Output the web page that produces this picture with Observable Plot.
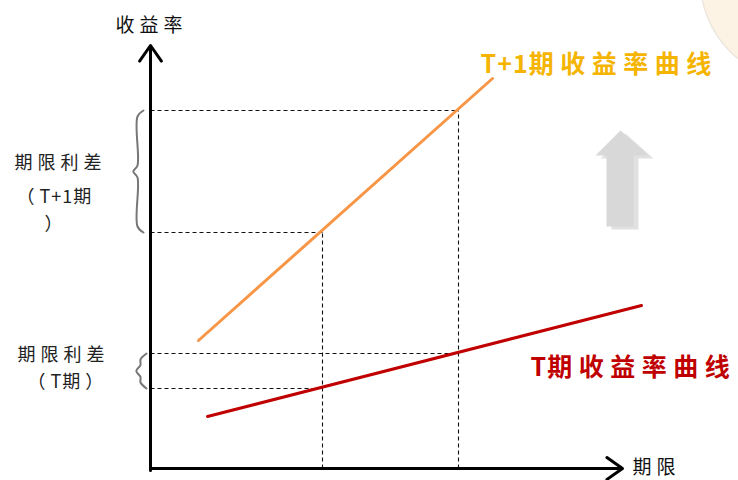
<!DOCTYPE html>
<html><head><meta charset="utf-8">
<script src="https://cdn.jsdelivr.net/npm/d3@7"></script>
<script src="https://cdn.jsdelivr.net/npm/@observablehq/plot@0.6"></script>
<style>body{margin:0;background:#fff}#chart{width:738px;height:480px;overflow:hidden}#chart svg text{letter-spacing:5px}#chart svg text.big{letter-spacing:6.5px}#chart svg tspan.latin{letter-spacing:1px}#chart svg tspan.last{letter-spacing:0}</style>
</head><body><div id="chart"></div>
<script>
// Conceptual yield-curve diagram (abstract units: term, yield)
const curveLabels = ["T+1期收益率曲线", "T期收益率曲线"];
const curveT1 = [{term: 4.8, yield: 12.8}, {term: 34.2, yield: 39.0}];
const curveT = [{term: 5.7, yield: 5.2}, {term: 49.1, yield: 16.3}];
const terms = [17.2, 30.8];
const yieldsT1 = [23.6, 35.8];
const yieldsT = [8.0, 11.5];
const axisTitles = ["收益率", "期限"];
const spreadLabels = [
  {text: "期限利差", term: -13.6, yield: 30.5},
  {text: "（T+1期", term: -13.4, yield: 27.1},
  {text: "）", term: -10.6, yield: 24.4},
  {text: "期限利差", term: -13.3, yield: 11.3},
  {text: "（T期）", term: -12.3, yield: 8.6}
];
const upArrow = [
  {term: 47.0, yield: 33.8}, {term: 49.8, yield: 31.3}, {term: 48.3, yield: 31.3},
  {term: 48.3, yield: 24.2}, {term: 45.6, yield: 24.2}, {term: 45.6, yield: 31.3},
  {term: 44.5, yield: 31.3}, {term: 47.0, yield: 33.8}
];

function brace(x, top, bot, w, id) {
  const mid = (top + bot) / 2, r = 0.6;
  return [
    [x + w, top], [x, top - r], [x, mid + r], [x - w * 0.7, mid],
    [x, mid - r], [x, bot + r], [x + w, bot]
  ].map(([term, yld]) => ({term, yield: yld, id}));
}
const braces = [
  ...brace(-1.3, yieldsT1[1], yieldsT1[0], 0.6, "a"),
  ...brace(-1.0, yieldsT[1], yieldsT[0], 0.6, "b")
];

const axes = [
  {x1: 0, y1: -0.2, x2: 0, y2: 42.3},
  {x1: 0, y1: 0, x2: 47.2, y2: 0}
];
const vDash = terms.map((t, i) => ({x1: t, y1: 0, x2: t, y2: yieldsT1[i]}));
const hDash = [
  ...terms.map((t, i) => ({x1: 0, y1: yieldsT1[i], x2: t, y2: yieldsT1[i]})),
  ...terms.map((t, i) => ({x1: 0, y1: yieldsT[i], x2: t, y2: yieldsT[i]}))
];

const cjk = "'Noto Sans CJK SC', 'Noto Sans', sans-serif";

const plot = Plot.plot({
  width: 738, height: 480, margin: 0,
  x: {domain: [-15, 58.8], range: [0, 738], axis: null},
  y: {domain: [-1.2, 46.8], range: [480, 0], axis: null},
  style: {background: "#fff"},
  marks: [
    // decorative page badge (top right)
    Plot.dot([{term: 65, yield: 48.8}], {x: "term", y: "yield", r: 100, fill: "#FDF3E4", stroke: "#ECE6DE", strokeWidth: 1.5}),
    Plot.text(["1"], {x: () => 73.0, y: () => 44.2, text: d => d, fill: "#B22222", fontSize: 26, fontWeight: "bold", textAnchor: "start", fontFamily: cjk}),
    // gray up arrow with shadow
    Plot.line(upArrow, {x: "term", y: "yield", fill: "#9a9a9a", stroke: "none", fillOpacity: 0.3, dx: 5, dy: 3}),
    Plot.line(upArrow, {x: "term", y: "yield", fill: "#D8D8D8", stroke: "none"}),
    // dashed guides
    Plot.link(vDash, {x1: "x1", y1: "y1", x2: "x2", y2: "y2", stroke: "#111", strokeWidth: 1.1, strokeDasharray: "4,3"}),
    Plot.link(hDash, {x1: "x1", y1: "y1", x2: "x2", y2: "y2", stroke: "#111", strokeWidth: 1.1, strokeDasharray: "4,3"}),
    // braces
    Plot.line(braces, {x: "term", y: "yield", z: "id", stroke: "#777", strokeWidth: 2, curve: "catmull-rom"}),
    // yield curves
    Plot.line(curveT1, {x: "term", y: "yield", stroke: "#F79646", strokeWidth: 3}),
    Plot.line(curveT, {x: "term", y: "yield", stroke: "#C00000", strokeWidth: 3}),
    // axes with arrowheads
    Plot.arrow(axes, {x1: "x1", y1: "y1", x2: "x2", y2: "y2", stroke: "#000", strokeWidth: 3, headLength: 9.5, headAngle: 70}),
    // axis titles
    Plot.text([axisTitles[0]], {x: () => -3.5, y: () => 44.3, text: d => d, fontSize: 19, fill: "#111", textAnchor: "start", fontFamily: cjk}),
    Plot.text([axisTitles[1]], {x: () => 48.2, y: () => 0.1, text: d => d, fontSize: 19, fill: "#111", textAnchor: "start", fontFamily: cjk}),
    // spread labels
    Plot.text(spreadLabels, {x: "term", y: "yield", text: "text", fontSize: 18, fill: "#222", textAnchor: "start", fontFamily: cjk}),
    // curve labels
    Plot.text([curveLabels[0]], {x: () => 33.0, y: () => 40.4, text: d => d, fontSize: 25, fontWeight: "bold", fill: "#F5B400", textAnchor: "start", fontFamily: cjk}),
    Plot.text([curveLabels[1]], {x: () => 38.0, y: () => 10.1, text: d => d, fontSize: 25, fontWeight: "bold", fill: "#C00000", textAnchor: "start", fontFamily: cjk})
  ]
});
// Latin runs inside mixed labels keep tight spacing; CJK glyphs get wider pitch;
// the final glyph carries no trailing spacing.
d3.select(plot).selectAll("text").each(function () {
  const el = this;
  if (el.querySelector("tspan")) return;
  const g = el.closest("g[font-size]");
  const s = el.textContent;
  if (g && g.getAttribute("font-size") === "25" && /[\u4e00-\u9fff]/.test(s)) el.setAttribute("class", "big");
  const chars = Array.from(s);
  if (chars.length < 2) return;
  const head = chars.slice(0, -1).join(""), tail = chars[chars.length - 1];
  const runs = head.match(/[A-Za-z0-9+]+|[^A-Za-z0-9+]+/g) || [];
  el.textContent = "";
  const sel = d3.select(el);
  runs.forEach(r => {
    const t = sel.append("tspan").text(r);
    if (/[A-Za-z0-9+]/.test(r)) t.attr("class", "latin");
  });
  sel.append("tspan").attr("class", "last").text(tail);
});
document.getElementById("chart").appendChild(plot);
</script>
</body></html>
